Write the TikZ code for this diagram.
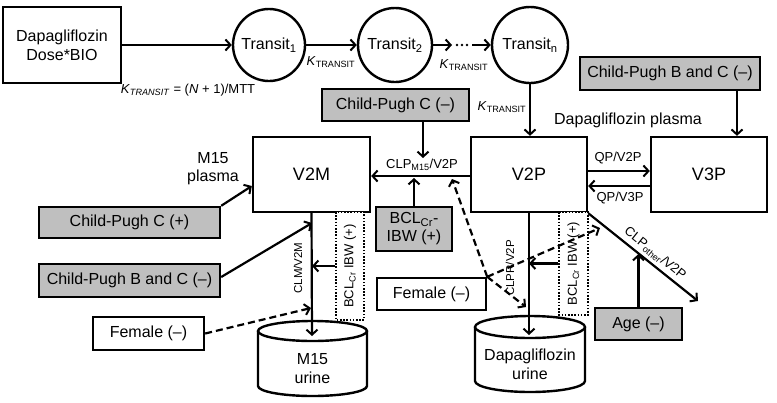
\documentclass[tikz,border=0pt]{standalone}
\usepackage{fontspec}
\setmainfont{Liberation Sans}
\usetikzlibrary{arrows.meta,calc}
\newcommand\fsz[2]{\fontsize{#1}{#2}\selectfont}
\tikzset{
  box/.style={draw, line width=2.4pt, inner sep=0pt, align=center, font=\fsz{16}{19}, fill=white},
  gbox/.style={box, fill=black!25},
  circ/.style={circle, draw, line width=2.4pt, inner sep=0pt, font=\fsz{16}{19}},
  arr/.style={line width=2.2pt, -{Straight Barb[length=5pt,width=11pt,line width=2pt]}},
  darr/.style={arr, dash pattern=on 7pt off 4pt},
  lbl/.style={font=\fsz{13}{15}, inner sep=1pt, align=center},
  slbl/.style={font=\fsz{11.5}{13}, inner sep=1pt},
  dbox/.style={draw, line width=2.2pt, dash pattern=on 1.6pt off 1.6pt, inner sep=0pt, font=\fsz{13}{15}, fill=white},
  cyl/.style={line width=2.4pt}
}
\begin{document}
\begin{tikzpicture}[x=1pt,y=-1pt]
\useasboundingbox (0,0) rectangle (777,402);
% top row
\node[box, minimum width=118pt, minimum height=76pt] (dose) at (62,45) {Dapagliflozin\\Dose*BIO};
\node[circ, minimum size=72pt] (t1) at (269,45) {Transit\textsubscript{1}};
\node[circ, minimum size=74pt] (t2) at (395,45) {Transit\textsubscript{2}};
\node[circ, minimum size=76pt] (tn) at (530,45) {Transit\textsubscript{n}};
\draw[arr] (dose.east) -- (t1.west);
\draw[arr] (t1.east) -- (t2.west);
\coordinate (d1) at (452,45);
\coordinate (d2) at (472,45);
\draw[arr] (t2.east) -- (d1);
\foreach \xx in {457,462,467} \fill (\xx,45) circle (1.3pt);
\draw[arr] (d2) -- (tn.west);
\node[lbl] (kform) at (188,90) {\textit{K}\textsubscript{\textit{TRANSIT}} = (\textit{N} + 1)/MTT};
\node[lbl] (k1) at (331,62) {\textit{K}\textsubscript{TRANSIT}};
\node[lbl] (k2) at (464,65) {\textit{K}\textsubscript{TRANSIT}};
\node[lbl] (k3) at (502,107) {\textit{K}\textsubscript{TRANSIT}};
% compartments
\node[box, minimum width=117pt, minimum height=75pt, font=\fsz{18}{20}] (v2m) at (311.5,174.5) {V2M};
\node[box, minimum width=116pt, minimum height=75pt, font=\fsz{18}{20}] (v2p) at (529,174.5) {V2P};
\node[box, minimum width=116pt, minimum height=75pt, font=\fsz{18}{20}] (v3p) at (709,174.5) {V3P};
\node[font=\fsz{16}{19}, inner sep=0pt] (dplab) at (628,120) {Dapagliflozin plasma};
\node[font=\fsz{16}{18}, inner sep=0pt, align=center] (m15lab) at (213,169) {M15\\plasma};
% covariate boxes
\node[gbox, minimum width=180pt, minimum height=33pt] (cpbcr) at (670,73.5) {Child-Pugh B and C (\textendash)};
\node[gbox, minimum width=147pt, minimum height=32pt] (cpcm) at (395.5,105) {Child-Pugh C (\textendash)};
\node[gbox, minimum width=76pt, minimum height=44pt, font=\fsz{16}{18}] (bclm) at (414,229) {BCL\textsubscript{Cr}-\\IBW (+)};
\node[gbox, minimum width=181pt, minimum height=31pt] (cpcp) at (129.5,222.5) {Child-Pugh C (+)};
\node[gbox, minimum width=181pt, minimum height=33pt] (cpbcl) at (129.5,280.5) {Child-Pugh B and C (\textendash)};
\node[box, minimum width=111pt, minimum height=33pt] (feml) at (148.5,333.5) {Female (\textendash)};
\node[box, minimum width=109pt, minimum height=32pt] (femm) at (431.5,294) {Female (\textendash)};
\node[gbox, minimum width=87pt, minimum height=32pt] (age) at (638.5,324) {Age (\textendash)};
\node[dbox, rotate=90, minimum width=108pt, minimum height=28pt] (dbm) at (350,266) {BCL\textsubscript{Cr} IBW (+)};
\node[dbox, rotate=90, minimum width=103pt, minimum height=29pt] (dbp) at (573.5,263.5) {BCL\textsubscript{Cr} IBW (+)};
% urine cylinders
\draw[cyl, fill=white] (258,331) -- (258,386) arc[start angle=180, end angle=360, x radius=54.5pt, y radius=10pt] -- (367,331);
\draw[cyl, fill=white] (312.5,331) ellipse [x radius=54.5pt, y radius=10pt];
\node[font=\fsz{16}{19}, align=center, inner sep=0pt] (m15u) at (312.5,369) {M15\\urine};
\draw[cyl, fill=white] (475,327) -- (475,381) arc[start angle=180, end angle=360, x radius=55pt, y radius=11pt] -- (585,327);
\draw[cyl, fill=white] (530,327) ellipse [x radius=55pt, y radius=11pt];
\node[font=\fsz{16}{19}, align=center, inner sep=0pt] (dapu) at (530,364) {Dapagliflozin\\urine};
\coordinate (m15top) at (312,336);
\coordinate (daptop) at (529,335);
% plasma connections
\draw[arr] (tn.south) -- (tn.south |- v2p.north);
\draw[arr] ([xshift=67pt]cpbcr.south) -- ([xshift=28pt]v3p.north);
\draw[arr] ([yshift=3.5pt]v2p.east) -- ([yshift=3.5pt]v3p.west);
\draw[arr] ([yshift=-11.5pt]v3p.west) -- ([yshift=-11.5pt]v2p.east);
\node[lbl] (qp2) at (618,158) {QP/V2P};
\node[lbl] (qp3) at (620,198) {QP/V3P};
\draw[arr] ([yshift=-1.5pt]v2p.west) -- ([yshift=-1.5pt]v2m.east);
\node[lbl] (clpm) at (422,165) {CLP\textsubscript{M15}/V2P};
\coordinate (cpin) at (423,158);
\draw[arr] ([xshift=27.5pt]cpcm.south) -- (cpin);
\coordinate (bclin) at (414,178);
\draw[arr] (bclm.north) -- (bclin);
% V2M side
\draw[arr] (cpcp.north east) -- ([yshift=-11.5pt]v2m.west);
\coordinate (v2mline) at (312,223);
\draw[arr] ([yshift=3.5pt]cpbcl.east) -- (v2mline);
\draw[arr] (v2m.south) -- (m15top);
\draw[arr] (dbm.north) -- (dbm.north -| m15top);
\node[slbl, rotate=90] (clmlab) at (298,268) {CLM/V2M};
\coordinate (femlin) at (311,308);
\draw[darr] (feml.east) -- (femlin);
% V2P side
\draw[arr] (v2p.south) -- (daptop);
\draw[arr] (dbp.north) -- (dbp.north -| daptop);
\node[slbl, rotate=90] (clprlab) at (510,268) {CLPR/V2P};
\coordinate (clpo) at (698,301);
\draw[arr] (v2p.south east) -- node[pos=0.55, sloped, above, lbl, inner sep=3pt] (clpolab) {CLP\textsubscript{other}/V2P} (clpo);
\coordinate (agein) at (638.5,254);
\draw[arr] (age.north) -- (agein);
\coordinate (fa) at (452,179);
\coordinate (fb) at (600,228);
\coordinate (fc) at (526,307);
\draw[darr] (femm.north east) -- (fa);
\draw[darr] (femm.north east) -- (fb);
\draw[darr] (femm.north east) -- (fc);
\end{tikzpicture}
\end{document}
